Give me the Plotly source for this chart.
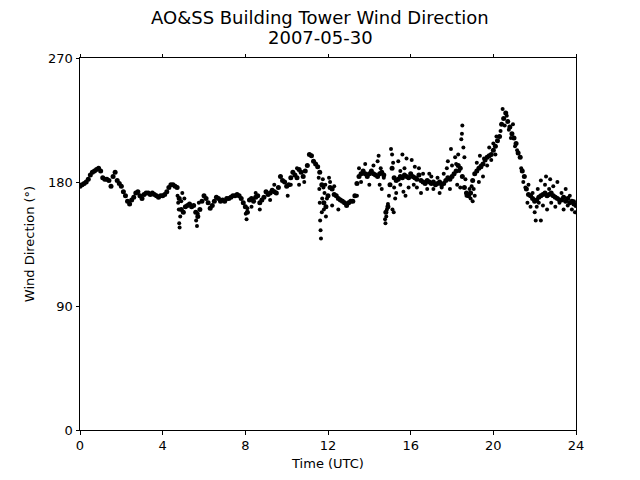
import plotly.graph_objects as go

# Main trend readings (hours UTC, wind direction deg), 0.1 h spacing
main_hours = [round(i * 0.1, 1) for i in range(0, 241)]
main_dir = [
    177, 178, 179, 180, 182, 185, 187, 188, 189, 190, 188,
    183, 182, 182, 181, 177, 184, 187, 181, 179, 177,
    173, 170, 166, 164, 167, 169, 172, 173, 170, 168,
    171, 172, 172, 171, 172, 171, 170, 169, 170, 170,
    171, 173, 176, 178, 178, 177, 176, 168, 160, 158,
    162, 163, 164, 162, 163, 158, 155, 160, 166, 170,
    168, 165, 161, 163, 166, 169, 168, 166, 167, 166,
    168, 168, 169, 170, 170, 171, 170, 168, 165, 162,
    158, 167, 168, 166, 169, 170, 165, 167, 169, 173,
    171, 172, 174, 173, 172, 176, 184, 181, 180, 177,
    178, 183, 187, 185, 183, 189, 187, 184, 188, 192,
    200, 199, 195, 193, 191, 187, 178, 165, 162, 170,
    176, 175, 171, 170, 168, 167, 166, 165, 163, 165,
    166, 166, 170, 179, 184, 186, 188, 186, 184, 186,
    188, 186, 185, 184, 186, 187, 185, 158, 162, 178,
    190, 183, 181, 182, 184, 183, 185, 184, 183, 186,
    184, 183, 182, 185, 181, 180, 179, 181, 180, 179,
    180, 178, 179, 180, 178, 179, 181, 183, 182, 184,
    186, 188, 192, 190, 184, 176, 172, 170, 172, 181,
    186, 188, 190, 191, 193, 196, 198, 199, 200, 203,
    206, 210, 213, 222, 226, 230, 224, 220, 215, 212,
    208, 201, 198, 188, 184, 175, 171, 170, 168, 166,
    167, 169, 170, 171, 172, 170, 171, 172, 170, 169,
    168, 167, 167, 169, 166, 168, 165, 166, 164, 163,
]

# Scattered readings (hours UTC, wind direction deg)
scatter_hours = [
    4.72, 4.75, 4.78, 4.80, 4.82, 4.85, 4.90, 4.95, 5.05,
    5.62, 5.66, 5.70, 5.75, 8.02, 8.06, 8.10,
    8.30, 8.50, 8.70, 9.20, 9.40, 10.05, 10.20, 10.50, 10.60, 10.85,
    11.55, 11.58, 11.60, 11.62, 11.64, 11.66, 11.70, 11.72, 11.75, 11.78,
    11.80, 11.83, 11.87, 11.90, 11.95,
    12.05, 12.10, 12.20, 12.30, 12.50,
    13.40, 13.50, 13.60, 13.80, 14.00, 14.20,
    14.40, 14.45, 14.50, 14.55, 14.60, 14.70,
    14.76, 14.78, 14.82, 14.85, 14.90, 14.95,
    15.05, 15.10, 15.15, 15.20, 15.25, 15.30, 15.12, 15.18,
    15.40, 15.50, 15.60, 15.65, 15.70, 15.80, 15.90, 15.50, 15.75,
    16.05, 16.20, 16.30, 16.40, 16.50, 16.60, 16.15,
    16.80, 16.90, 17.00, 17.10, 17.30, 17.40, 17.50, 17.60,
    17.75, 17.80, 17.90, 18.00, 17.95,
    18.15, 18.20, 18.25, 18.30, 18.35, 18.40, 18.45, 18.50, 18.48, 18.55,
    18.60, 18.65, 18.70,
    18.85, 18.90, 18.95, 19.00, 19.05, 19.10,
    19.20, 19.30, 19.40, 19.50, 19.55, 19.35,
    19.70, 19.80, 19.90, 20.00, 20.10, 20.15,
    20.35, 20.45, 20.55, 20.65, 20.75, 20.85, 20.95, 21.05, 21.15,
    21.35, 21.45, 21.55, 21.65, 21.70, 21.80, 21.90, 22.00, 22.05, 22.10,
    22.15, 22.20,
    22.30, 22.40, 22.50, 22.55, 22.60, 22.70, 22.75, 22.80, 22.90, 23.00,
    23.10, 23.20, 23.30, 23.40, 23.50, 23.60, 23.70, 23.80, 23.90, 23.95,
    22.30,
]
scatter_dir = [
    170, 165, 160, 150, 147, 155, 166, 172, 168,
    152, 148, 157, 165, 157, 153, 161,
    162, 172, 160, 167, 178, 170, 178, 190, 178, 180,
    183, 175, 165, 152, 145, 139, 158, 168, 182, 176,
    160, 172, 178, 155, 168,
    183, 180, 163, 177, 160,
    170, 190, 180, 193, 178, 192,
    195, 199, 178, 190, 175, 183,
    153, 150, 155, 160, 164, 170,
    204, 200, 194, 176, 168, 172, 160, 158,
    195, 188, 200, 173, 190, 197, 176, 178, 170,
    196, 191, 176, 190, 172, 186, 178,
    175, 186, 184, 175, 183, 172, 176, 186,
    190, 195, 175, 192, 204,
    198, 193, 178, 200, 188, 176, 211, 221, 215, 205,
    198, 182, 170,
    175, 168, 177, 166, 175, 170,
    194, 180, 192, 184, 197, 199,
    192, 205, 196, 208, 200, 213,
    217, 233, 221, 228, 218, 212, 222, 206, 203,
    190, 180, 176, 165, 178, 162, 172, 158, 152, 162,
    175, 165,
    181, 163, 178, 184, 160, 175, 182, 165, 177, 162,
    180, 165, 172, 160, 175, 163, 170, 160, 166, 158,
    152,
]

title_lines = ["AO&SS Building Tower Wind Direction", "2007-05-30"]
x_ticks = [0, 4, 8, 12, 16, 20, 24]
y_ticks = [0, 90, 180, 270]

fig = go.Figure()
fig.add_trace(go.Scatter(x=main_hours, y=main_dir, mode="markers",
                         marker=dict(color="black", size=5), showlegend=False))
fig.add_trace(go.Scatter(x=scatter_hours, y=scatter_dir, mode="markers",
                         marker=dict(color="black", size=4), showlegend=False))

for line, ypos in zip(title_lines, [1.108, 1.054]):
    fig.add_annotation(text=line, xref="paper", yref="paper", x=0.4839, y=ypos,
                       xanchor="center", yanchor="middle", showarrow=False,
                       font=dict(family="DejaVu Sans", size=18, color="black"))

# The page body has an 8px margin, so the figure is sized to fit 632x472
fig.update_layout(
    width=632, height=472,
    margin=dict(l=72, r=64, t=50, b=50),
    paper_bgcolor="white", plot_bgcolor="white",
    font=dict(family="DejaVu Sans", size=13, color="black"),
    xaxis=dict(range=[0, 24], tickvals=x_ticks, ticktext=[str(v) for v in x_ticks],
               showgrid=False, zeroline=False, showline=True, linecolor="black",
               linewidth=1, mirror="ticks", ticks="outside", ticklen=3.5,
               tickcolor="black", tickfont=dict(size=13),
               title=dict(text="Time (UTC)", font=dict(size=13), standoff=6)),
    yaxis=dict(range=[0, 270], tickvals=y_ticks, ticktext=[str(v) for v in y_ticks],
               showgrid=False, zeroline=False, showline=True, linecolor="black",
               linewidth=1, mirror=True, ticks="outside", ticklen=3.5,
               tickcolor="black", tickfont=dict(size=13),
               title=dict(text="Wind Direction (°)", font=dict(size=13), standoff=10)),
)

fig.write_html("out.html")
